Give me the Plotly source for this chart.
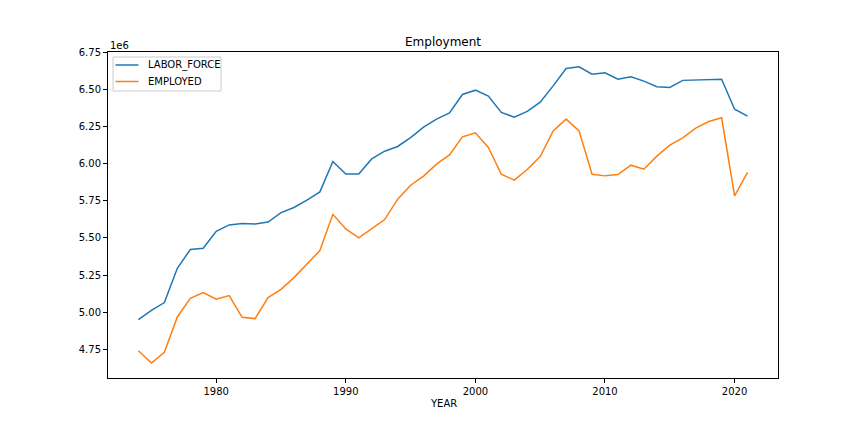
import plotly.graph_objects as go

years = list(range(1974, 2022))
labor_force = [4.950, 5.013, 5.065, 5.296, 5.422, 5.431, 5.545, 5.588, 5.597, 5.594,
               5.607, 5.671, 5.705, 5.754, 5.810, 6.015, 5.931, 5.931, 6.032, 6.084,
               6.116, 6.176, 6.246, 6.300, 6.342, 6.466, 6.495, 6.455, 6.345, 6.313,
               6.352, 6.414, 6.524, 6.641, 6.652, 6.603, 6.612, 6.569, 6.585, 6.556,
               6.518, 6.513, 6.561, 6.565, 6.569, 6.569, 6.367, 6.320]
employed = [4.741, 4.658, 4.730, 4.968, 5.094, 5.132, 5.087, 5.112, 4.966, 4.957,
            5.098, 5.154, 5.233, 5.323, 5.415, 5.659, 5.561, 5.500, 5.559, 5.624,
            5.761, 5.855, 5.916, 5.997, 6.059, 6.181, 6.208, 6.109, 5.929, 5.889,
            5.961, 6.048, 6.221, 6.300, 6.221, 5.929, 5.918, 5.927, 5.990, 5.963,
            6.051, 6.125, 6.174, 6.239, 6.284, 6.309, 5.783, 5.941]
# values are in millions (1e6)
y_ticks = [4.75, 5.00, 5.25, 5.50, 5.75, 6.00, 6.25, 6.50, 6.75]
x_ticks = [1980, 1990, 2000, 2010, 2020]
series_names = ["LABOR_FORCE", "EMPLOYED"]
series_colors = ["#1f77b4", "#ff7f0e"]

FONT = "DejaVu Sans"
PW, PH = 670.0, 326.0  # plot area size in px


def px_x(px):
    return (px - 108) / PW


def px_y(py):
    return (378 - py) / PH


fig = go.Figure()
for name, vals, col in zip(series_names, [labor_force, employed], series_colors):
    fig.add_trace(go.Scatter(x=years, y=vals, mode="lines", name=name,
                             line=dict(color=col, width=1.5), showlegend=False))

axis_common = dict(showline=True, linecolor="black", linewidth=1, mirror=True,
                   ticks="outside", ticklen=4, tickcolor="black", tickwidth=1,
                   showgrid=False, zeroline=False,
                   tickfont=dict(family=FONT, size=10, color="black"))

# manual legend (matplotlib-like)
shapes = [dict(type="rect", xref="paper", yref="paper",
               x0=px_x(113), x1=px_x(221), y0=px_y(91), y1=px_y(57),
               line=dict(color="#cccccc", width=1), fillcolor="rgba(255,255,255,0.8)",
               layer="above")]
annotations = []
for i, (name, col) in enumerate(zip(series_names, series_colors)):
    yc = 65 + i * 16.5
    shapes.append(dict(type="line", xref="paper", yref="paper",
                       x0=px_x(115.5), x1=px_x(138.5), y0=px_y(yc), y1=px_y(yc),
                       line=dict(color=col, width=1.5), layer="above"))
    annotations.append(dict(text=name, x=px_x(145.5), y=px_y(yc), xref="paper", yref="paper",
                            xanchor="left", yanchor="middle", showarrow=False,
                            font=dict(family=FONT, size=10, color="black")))

annotations += [
    dict(text="Employment", x=0.5, y=1, xref="paper", yref="paper",
         xanchor="center", yanchor="bottom", yshift=1, showarrow=False,
         font=dict(family=FONT, size=12, color="black")),
    dict(text="1e6", x=0, y=1, xref="paper", yref="paper",
         xanchor="left", yanchor="bottom", yshift=-1, showarrow=False,
         font=dict(family=FONT, size=10, color="black")),
    dict(text="YEAR", x=0.5, y=0, xref="paper", yref="paper",
         xanchor="center", yanchor="top", yshift=-18, showarrow=False,
         font=dict(family=FONT, size=10, color="black")),
]

fig.update_layout(
    width=864, height=432,
    margin=dict(l=108, r=86, t=52, b=54),
    paper_bgcolor="white", plot_bgcolor="white",
    font=dict(family=FONT, size=10, color="black"),
    showlegend=False,
    xaxis=dict(range=[1971.65, 2023.35], tickvals=x_ticks, **axis_common),
    yaxis=dict(range=[4.557, 6.752], tickvals=y_ticks, tickformat=".2f", **axis_common),
    shapes=shapes,
    annotations=annotations,
)

fig.write_html("out.html", config={"displayModeBar": False},
               post_script="document.body.style.margin='0';document.body.style.padding='0';")
